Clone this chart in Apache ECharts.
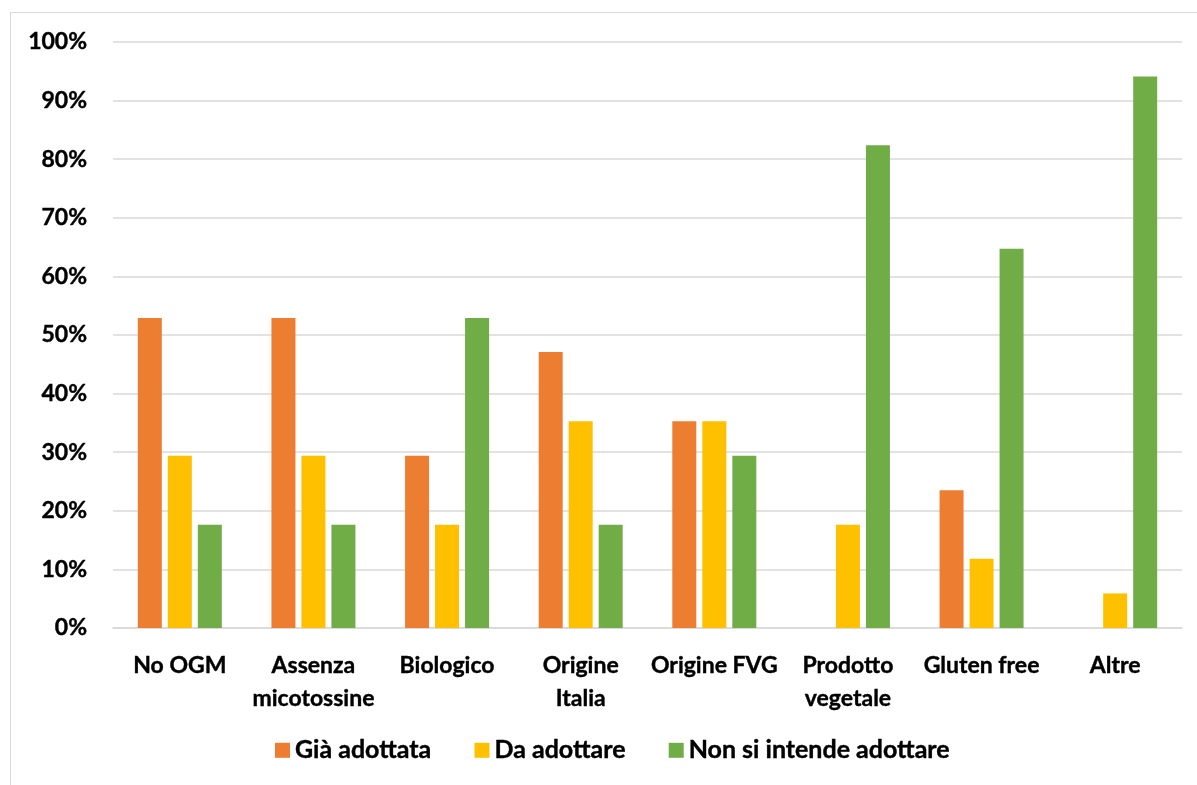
<!DOCTYPE html>
<html>
<head>
<meta charset="utf-8">
<script src="https://cdn.jsdelivr.net/npm/echarts@6/dist/echarts.min.js"></script>
<style>
  html, body { margin: 0; padding: 0; background: #fff; }
  #frame { position: absolute; left: 10px; top: 12px; width: 1200px; height: 800px; border: 1px solid #d9d9d9; box-sizing: border-box; }
  #chart { position: absolute; left: 0; top: 0; width: 1197px; height: 785px; }
</style>
</head>
<body>
<div id="frame"></div>
<div id="chart"></div>
<script>
// Certification categories and share of respondents per answer
const categories = ['No OGM', 'Assenza\nmicotossine', 'Biologico', 'Origine\nItalia', 'Origine FVG', 'Prodotto\nvegetale', 'Gluten free', 'Altre'];
const giaAdottata = [52.9, 52.9, 29.4, 47.1, 35.3, 0, 23.5, 0];
const daAdottare = [29.4, 29.4, 17.6, 35.3, 35.3, 17.6, 11.8, 5.9];
const nonSiIntende = [17.6, 17.6, 52.9, 17.6, 29.4, 82.4, 64.7, 94.1];
const seriesNames = ['Già adottata', 'Da adottare', 'Non si intende adottare'];
const colors = ['#ED7D31', '#FFC000', '#70AD47'];

const font = 'Lato, "Open Sans", sans-serif';
const chart = echarts.init(document.getElementById('chart'), null, { renderer: 'canvas' });

function bar(name, data, color) {
  return {
    name: name,
    type: 'bar',
    data: data,
    barWidth: 24,
    barGap: '25%',
    itemStyle: { color: color }
  };
}

chart.setOption({
  animation: false,
  color: colors,
  grid: { left: 113, right: 15, top: 42, bottom: 157, containLabel: false },
  legend: {
    bottom: 17,
    left: 270,
    itemWidth: 15,
    itemHeight: 15,
    itemGap: 43,
    icon: 'rect',
    textStyle: { fontFamily: font, fontWeight: 'bold', fontSize: 25, color: '#000', textBorderColor: '#000', textBorderWidth: 0.4 },
    data: seriesNames
  },
  xAxis: {
    type: 'category',
    data: categories,
    axisLine: { lineStyle: { color: '#d9d9d9', width: 1.5 } },
    axisTick: { show: false },
    axisLabel: {
      interval: 0,
      margin: 21,
      lineHeight: 33,
      fontFamily: font,
      fontWeight: 'bold',
      fontSize: 23,
      color: '#000',
      textBorderColor: '#000',
      textBorderWidth: 0.4
    }
  },
  yAxis: {
    type: 'value',
    min: 0,
    max: 100,
    interval: 10,
    axisLine: { show: false },
    axisTick: { show: false },
    splitLine: { lineStyle: { color: '#d9d9d9', width: 1.5 } },
    axisLabel: {
      margin: 26,
      formatter: '{value}%',
      fontFamily: font,
      fontWeight: 'bold',
      fontSize: 23,
      color: '#000',
      textBorderColor: '#000',
      textBorderWidth: 0.4
    }
  },
  series: [
    bar(seriesNames[0], giaAdottata, colors[0]),
    bar(seriesNames[1], daAdottare, colors[1]),
    bar(seriesNames[2], nonSiIntende, colors[2])
  ]
});
</script>
</body>
</html>
